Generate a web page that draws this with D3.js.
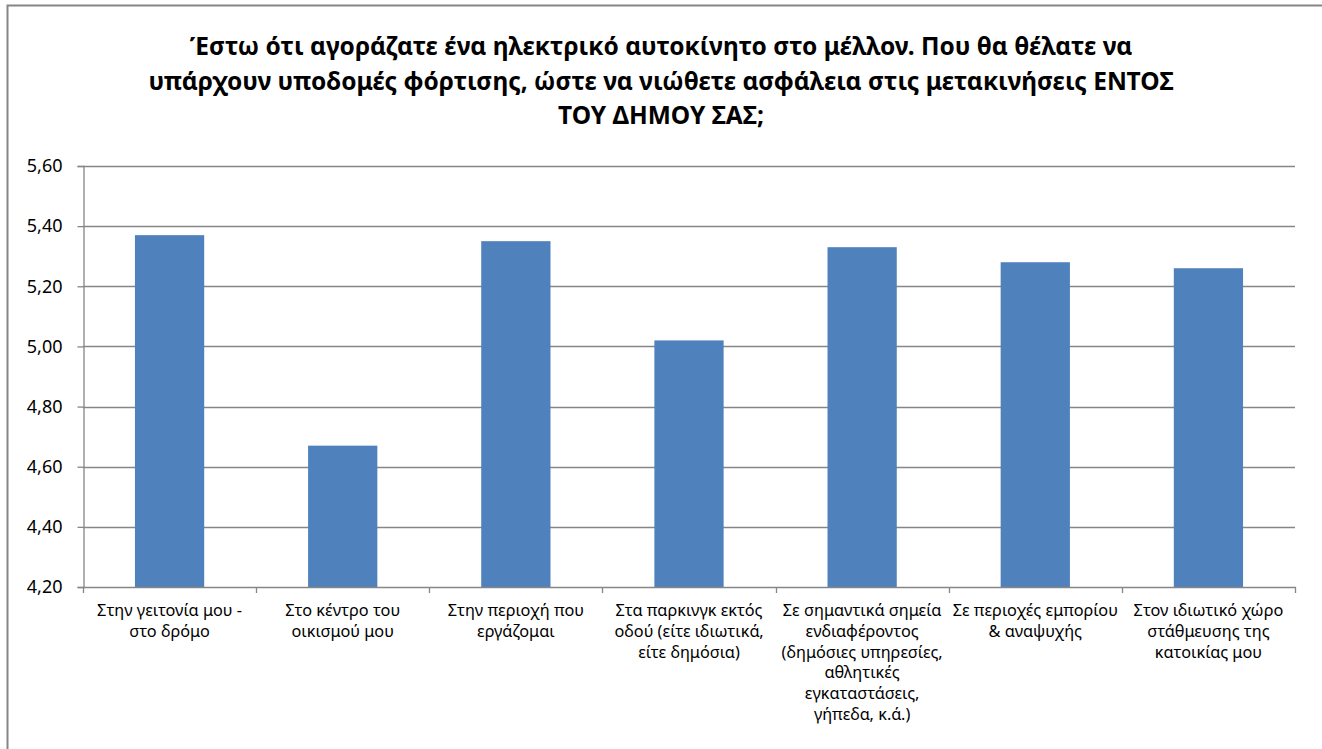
<!DOCTYPE html>
<html>
<head>
<meta charset="utf-8">
<script src="https://cdn.jsdelivr.net/npm/d3@7"></script>
<style>
  html, body { margin: 0; padding: 0; background: #fff; }
  svg { display: block; }
</style>
</head>
<body>
<svg id="chart" width="1322" height="749"></svg>
<script>
// Chart title (three lines)
const titleLines = [
  "Έστω ότι αγοράζατε ένα ηλεκτρικό αυτοκίνητο στο μέλλον. Που θα θέλατε να",
  "υπάρχουν υποδομές φόρτισης, ώστε να νιώθετε ασφάλεια στις μετακινήσεις ΕΝΤΟΣ",
  "ΤΟΥ ΔΗΜΟΥ ΣΑΣ;"
];

// Categories (line breaks as shown under the axis)
const categories = [
  "Στην γειτονία μου -\nστο δρόμο",
  "Στο κέντρο του\nοικισμού μου",
  "Στην περιοχή που\nεργάζομαι",
  "Στα παρκινγκ εκτός\nοδού (είτε ιδιωτικά,\nείτε δημόσια)",
  "Σε σημαντικά σημεία\nενδιαφέροντος\n(δημόσιες υπηρεσίες,\nαθλητικές\nεγκαταστάσεις,\nγήπεδα, κ.ά.)",
  "Σε περιοχές εμπορίου\n& αναψυχής",
  "Στον ιδιωτικό χώρο\nστάθμευσης της\nκατοικίας μου"
];

// Mean scores
const values = [5.37, 4.67, 5.35, 5.02, 5.33, 5.28, 5.26];

// Y axis ticks
const yTicks = [4.20, 4.40, 4.60, 4.80, 5.00, 5.20, 5.40, 5.60];

const svg = d3.select("#chart");
const FONT = "'Noto Sans', 'Open Sans', sans-serif";
const GRID = "#868686";
const BAR = "#4f81bd";

const plot = { left: 83, right: 1295, top: 166, bottom: 587 };

// Outer chart frame
svg.append("path")
  .attr("d", `M7.5,${749 + 5}V5.5H${1322 + 5}`)
  .attr("fill", "none")
  .attr("stroke", GRID)
  .attr("stroke-width", 2);

// Title
svg.append("text")
  .attr("text-anchor", "middle")
  .attr("font-family", FONT)
  .attr("font-weight", "bold")
  .attr("font-size", 24.5)
  .attr("fill", "#000")
  .selectAll("tspan")
  .data(titleLines)
  .join("tspan")
  .attr("x", 661)
  .attr("y", (d, i) => 55 + i * 34.5)
  .text(d => d);

const x = d3.scaleBand()
  .domain(categories)
  .range([plot.left, plot.right])
  .paddingInner(0.6)
  .paddingOuter(0.3);

const y = d3.scaleLinear()
  .domain([4.2, 5.6])
  .range([plot.bottom, plot.top]);

const fmt = v => d3.format(".2f")(v).replace(".", ",");

// Horizontal gridlines
svg.append("g")
  .selectAll("line")
  .data(yTicks.filter(t => t > 4.2))
  .join("line")
  .attr("x1", plot.left)
  .attr("x2", plot.right)
  .attr("y1", d => Math.round(y(d)) + 0.5)
  .attr("y2", d => Math.round(y(d)) + 0.5)
  .attr("stroke", GRID)
  .attr("stroke-width", 1.3);

// Bars
svg.append("g")
  .selectAll("rect")
  .data(values)
  .join("rect")
  .attr("x", (d, i) => x(categories[i]))
  .attr("width", x.bandwidth())
  .attr("y", d => y(d))
  .attr("height", d => y(4.2) - y(d))
  .attr("fill", BAR);

// Y axis
const yAxis = d3.axisLeft(y)
  .tickValues(yTicks)
  .tickFormat(fmt)
  .tickSize(6)
  .tickPadding(15);

const gy = svg.append("g")
  .attr("transform", `translate(${plot.left + 0.5},0)`)
  .call(yAxis);
gy.select(".domain").attr("stroke", GRID).attr("stroke-width", 1.3);
gy.selectAll(".tick line").attr("stroke", GRID).attr("stroke-width", 1.3);
gy.selectAll(".tick text")
  .attr("font-family", FONT)
  .attr("font-size", 18)
  .attr("fill", "#000");

// X axis with ticks at category boundaries
const xg = svg.append("g");
xg.append("line")
  .attr("x1", plot.left)
  .attr("x2", plot.right + 1)
  .attr("y1", plot.bottom + 0.5)
  .attr("y2", plot.bottom + 0.5)
  .attr("stroke", GRID)
  .attr("stroke-width", 1.3);

const boundaries = d3.range(categories.length + 1).map(i => plot.left + i * (plot.right - plot.left) / categories.length);
xg.selectAll("line.tick")
  .data(boundaries)
  .join("line")
  .attr("class", "tick")
  .attr("x1", d => Math.round(d) + 0.5)
  .attr("x2", d => Math.round(d) + 0.5)
  .attr("y1", plot.bottom)
  .attr("y2", plot.bottom + 6)
  .attr("stroke", GRID)
  .attr("stroke-width", 1.3);

// Category labels
xg.selectAll("text.cat")
  .data(categories)
  .join("text")
  .attr("class", "cat")
  .attr("text-anchor", "middle")
  .attr("font-family", FONT)
  .attr("font-size", 16.3)
  .attr("fill", "#000")
  .each(function (d) {
    const cx = x(d) + x.bandwidth() / 2;
    d3.select(this).selectAll("tspan")
      .data(d.split("\n"))
      .join("tspan")
      .attr("x", cx)
      .attr("y", (t, i) => 616 + i * 20.8)
      .text(t => t);
  });
</script>
</body>
</html>
